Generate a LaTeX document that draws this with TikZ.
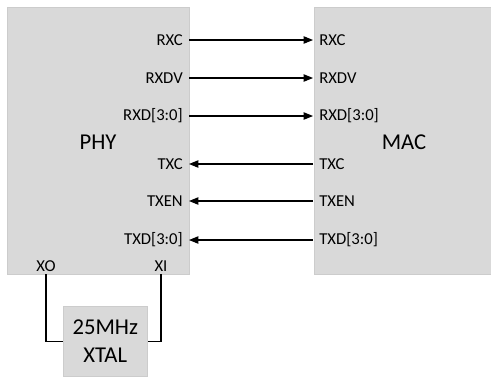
\documentclass[tikz,border=0pt]{standalone}
\usepackage{fontspec}
\setmainfont{Carlito}
\usetikzlibrary{arrows.meta, positioning}

\begin{document}
\begin{tikzpicture}[
  x=0.75pt, y=-0.75pt,
  chip/.style={draw=gray!40, fill=gray!30, minimum width=136.5pt, minimum height=200.25pt,
               inner sep=0pt, anchor=north west},
  big/.style={font=\fontsize{17}{20.6}\selectfont, align=center},
  pinl/.style={font=\fontsize{12.5}{15}\selectfont, inner xsep=4.5pt, inner ysep=1pt, anchor=east},
  pinr/.style={pinl, anchor=west},
  pinb/.style={font=\fontsize{12.5}{15}\selectfont, inner sep=1.5pt, anchor=south},
  arr/.style={-{Triangle[length=7pt, width=5.5pt]}, line width=0.8pt},
  wire/.style={line width=0.8pt},
]
  \useasboundingbox (0,0) rectangle (491,376);

  % blocks
  \node[chip] (phy) at (7,7) {};
  \node[chip, right=93pt of phy.north east, anchor=north west] (mac) {};
  \node[big] (phylbl) at (98,142) {PHY};
  \node[big] (maclbl) at (404,142) {MAC};
  \node[chip, big, draw=gray!40, minimum width=63pt, minimum height=52.5pt] (xtal) at (63,306)
       {25MHz\\XTAL};

  % PHY side pins
  \node[pinl] (prxc)  at (189,40)  {RXC};
  \node[pinl] (prxdv) at (189,78)  {RXDV};
  \node[pinl] (prxd)  at (189,116) {RXD[3:0]};
  \node[pinl] (ptxc)  at (189,164) {TXC};
  \node[pinl] (ptxen) at (189,201) {TXEN};
  \node[pinl] (ptxd)  at (189,240) {TXD[3:0]};
  \node[pinb] (xo) at (46,274)  {XO};
  \node[pinb] (xi) at (161,274) {XI};

  % MAC side pins
  \node[pinr] (mrxc)  at (313,40)  {RXC};
  \node[pinr] (mrxdv) at (313,78)  {RXDV};
  \node[pinr] (mrxd)  at (313,116) {RXD[3:0]};
  \node[pinr] (mtxc)  at (313,164) {TXC};
  \node[pinr] (mtxen) at (313,201) {TXEN};
  \node[pinr] (mtxd)  at (313,240) {TXD[3:0]};

  % receive path
  \draw[arr] (prxc)  -- (mrxc);
  \draw[arr] (prxdv) -- (mrxdv);
  \draw[arr] (prxd)  -- (mrxd);
  % transmit path
  \draw[arr] (mtxc)  -- (ptxc);
  \draw[arr] (mtxen) -- (ptxen);
  \draw[arr] (mtxd)  -- (ptxd);
  % crystal
  \draw[wire] (xo.south) |- (xtal.west);
  \draw[wire] (xi.south) |- (xtal.east);
\end{tikzpicture}
\end{document}
